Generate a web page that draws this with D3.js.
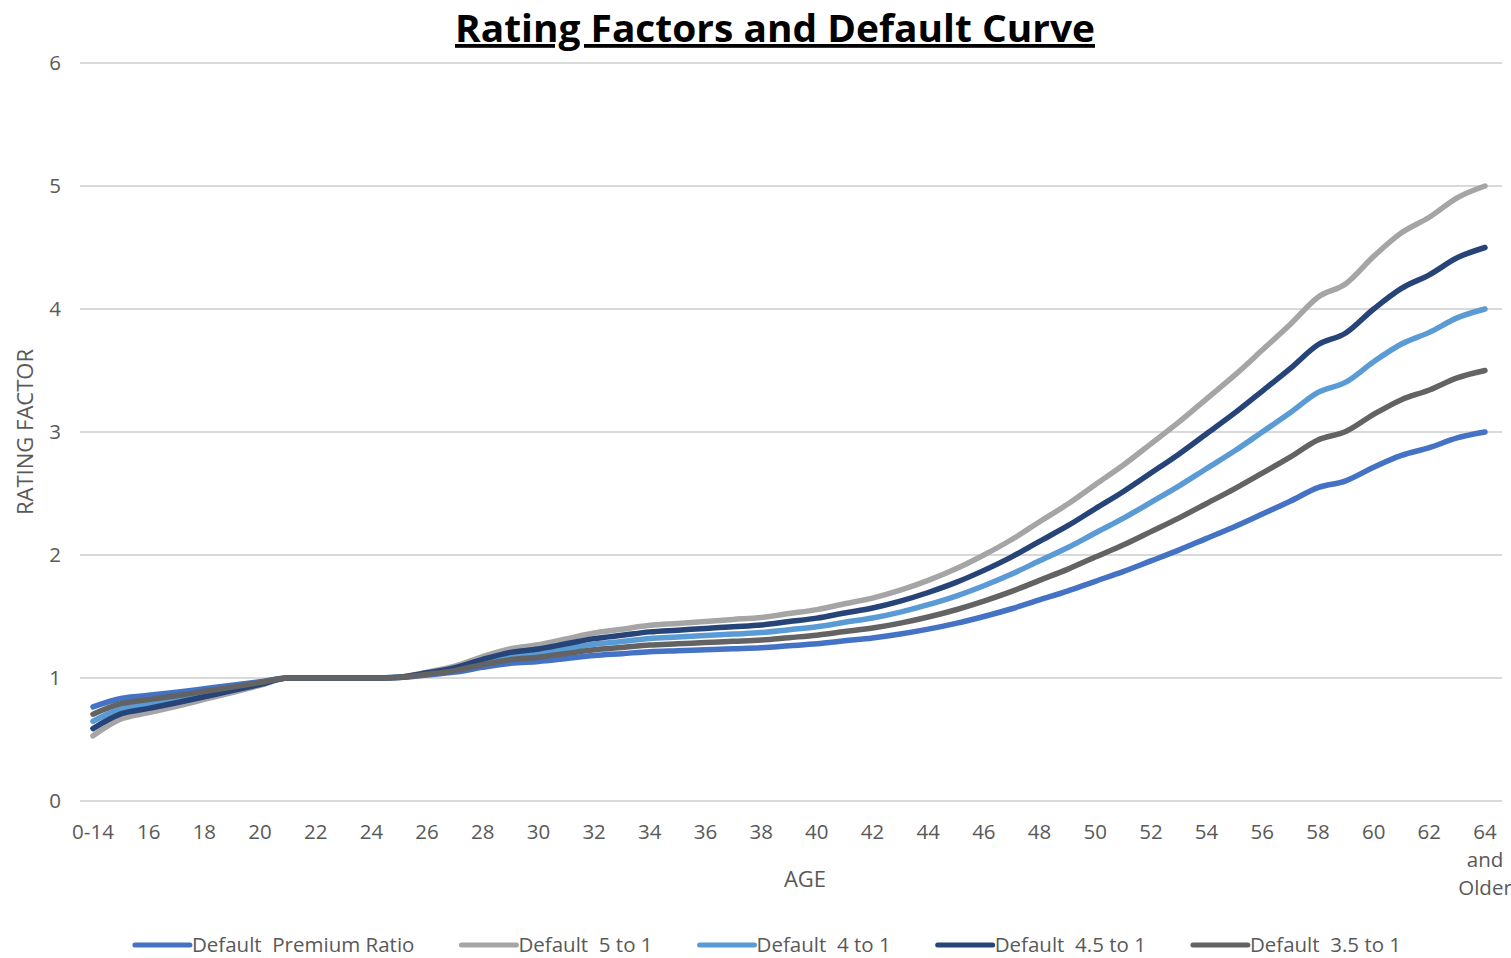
<!doctype html>
<html>
<head>
<meta charset="utf-8">
<script src="https://d3js.org/d3.v7.min.js"></script>
<style>
  body { margin: 0; background: #fff; }
  svg { font-family: "Open Sans", "Noto Sans", sans-serif; }
  .grid line { stroke: #d9d9d9; stroke-width: 1.5; shape-rendering: crispEdges; }
  .tick-label { fill: #595959; font-size: 20.5px; }
  .axis-title { fill: #595959; font-size: 22px; }
  .legendtext { fill: #595959; font-size: 20.5px; white-space: pre; }
</style>
</head>
<body>
<script>
// categories on the x axis
var ages = ["0-14"];
for (var a = 15; a <= 63; a++) ages.push(String(a));
ages.push("64 and Older");

// series values, one per age category
var premiumRatio = [0.765,0.833,0.859,0.885,0.913,0.941,0.970,1.000,1.000,1.000,1.000,1.004,1.024,1.048,1.087,1.119,1.135,1.159,1.183,1.198,1.214,1.222,1.230,1.238,1.246,1.262,1.278,1.302,1.325,1.357,1.397,1.444,1.500,1.563,1.635,1.706,1.786,1.865,1.952,2.040,2.135,2.230,2.333,2.437,2.548,2.603,2.714,2.810,2.873,2.952,3.000];
var fiveTo1 = [0.530,0.666,0.718,0.770,0.826,0.882,0.940,1.000,1.000,1.000,1.000,1.008,1.048,1.096,1.174,1.238,1.270,1.318,1.366,1.396,1.428,1.444,1.460,1.476,1.492,1.524,1.556,1.604,1.650,1.714,1.794,1.888,2.000,2.126,2.270,2.412,2.572,2.730,2.904,3.080,3.270,3.460,3.666,3.874,4.096,4.206,4.428,4.620,4.746,4.904,5.000];
var fourTo1 = [0.648,0.750,0.789,0.828,0.870,0.912,0.955,1.000,1.000,1.000,1.000,1.006,1.036,1.072,1.131,1.179,1.203,1.239,1.275,1.297,1.321,1.333,1.345,1.357,1.369,1.393,1.417,1.453,1.488,1.536,1.596,1.666,1.750,1.845,1.953,2.059,2.179,2.298,2.428,2.560,2.703,2.845,3.000,3.156,3.322,3.405,3.571,3.715,3.810,3.928,4.000];
var fourHalfTo1 = [0.589,0.708,0.753,0.799,0.848,0.897,0.948,1.000,1.000,1.000,1.000,1.007,1.042,1.084,1.152,1.208,1.236,1.278,1.320,1.347,1.375,1.389,1.403,1.417,1.431,1.459,1.487,1.529,1.569,1.625,1.695,1.777,1.875,1.985,2.111,2.236,2.376,2.514,2.666,2.820,2.986,3.153,3.333,3.515,3.709,3.805,4.000,4.168,4.278,4.416,4.500];
var threeHalfTo1 = [0.706,0.791,0.824,0.856,0.891,0.926,0.963,1.000,1.000,1.000,1.000,1.005,1.030,1.060,1.109,1.149,1.169,1.199,1.229,1.248,1.268,1.278,1.288,1.298,1.308,1.328,1.348,1.378,1.406,1.446,1.496,1.555,1.625,1.704,1.794,1.883,1.983,2.081,2.190,2.300,2.419,2.538,2.666,2.796,2.935,3.004,3.143,3.263,3.341,3.440,3.500];

var seriesNames = ["Default  Premium Ratio", "Default  5 to 1", "Default  4 to 1", "Default  4.5 to 1", "Default  3.5 to 1"];
var seriesValues = [premiumRatio, fiveTo1, fourTo1, fourHalfTo1, threeHalfTo1];
var colors = ["#4472C4", "#A5A5A5", "#5B9BD5", "#264478", "#636363"];
var yTicks = [0, 1, 2, 3, 4, 5, 6];

var width = 1511, height = 958;
var svg = d3.select("body").append("svg").attr("width", width).attr("height", height);

var x = d3.scalePoint().domain(ages).range([93, 1485]);
var y = d3.scaleLinear().domain([0, 6]).range([801, 63]);

// gridlines
svg.append("g").attr("class", "grid")
  .selectAll("line").data(yTicks).enter().append("line")
  .attr("x1", 80).attr("x2", 1502)
  .attr("y1", d => y(d)).attr("y2", d => y(d));

// y axis labels
svg.append("g").selectAll("text").data(yTicks).enter().append("text")
  .attr("class", "tick-label")
  .attr("x", 61).attr("y", d => y(d)).attr("dy", "0.35em")
  .attr("text-anchor", "end")
  .text(d => d);

// x axis labels, every second category
var shown = ages.filter((d, i) => i % 2 === 0);
var xl = svg.append("g").selectAll("text").data(shown).enter().append("text")
  .attr("class", "tick-label")
  .attr("x", d => x(d)).attr("y", 839)
  .attr("text-anchor", "middle");
xl.each(function(d) {
  var parts = d === "64 and Older" ? ["64", "and", "Older"] : [d];
  var t = d3.select(this);
  parts.forEach(function(p, i) {
    t.append("tspan").attr("x", x(d)).attr("dy", i === 0 ? 0 : 28).text(p);
  });
});

// axis titles
svg.append("text").attr("class", "axis-title")
  .attr("x", 805).attr("y", 887).attr("text-anchor", "middle").text("AGE");
svg.append("text").attr("class", "axis-title")
  .attr("transform", "translate(33,432) rotate(-90)")
  .attr("text-anchor", "middle").text("RATING FACTOR");

// lines
var line = d3.line()
  .x((d, i) => x(ages[i]))
  .y(d => y(d))
  .curve(d3.curveMonotoneX);

svg.append("g").selectAll("path").data(seriesValues).enter().append("path")
  .attr("d", d => line(d))
  .attr("fill", "none")
  .attr("stroke", (d, i) => colors[i])
  .attr("stroke-width", 5.5)
  .attr("stroke-linecap", "round")
  .attr("stroke-linejoin", "round");

// title
svg.append("text")
  .attr("x", 775).attr("y", 42)
  .attr("text-anchor", "middle")
  .style("font-size", "38px").style("font-weight", "bold")
  .style("text-decoration", "underline")
  .attr("fill", "#000")
  .attr("textLength", 640).attr("lengthAdjust", "spacingAndGlyphs")
  .text("Rating Factors and Default Curve");

// legend
var legend = svg.append("g");
var lx = 0;
seriesNames.forEach(function(name, i) {
  var g = legend.append("g").attr("transform", "translate(" + lx + ",0)");
  g.append("line").attr("x1", 0).attr("x2", 55).attr("y1", 0).attr("y2", 0)
    .attr("stroke", colors[i]).attr("stroke-width", 5).attr("stroke-linecap", "round");
  var t = g.append("text").attr("class", "legendtext")
    .attr("x", 57).attr("dy", "0.35em").text(name);
  lx += 57 + t.node().getComputedTextLength() + 47;
});
var legendW = lx - 47;
legend.attr("transform", "translate(" + (768 - legendW / 2) + ",945)");
</script>
</body>
</html>
